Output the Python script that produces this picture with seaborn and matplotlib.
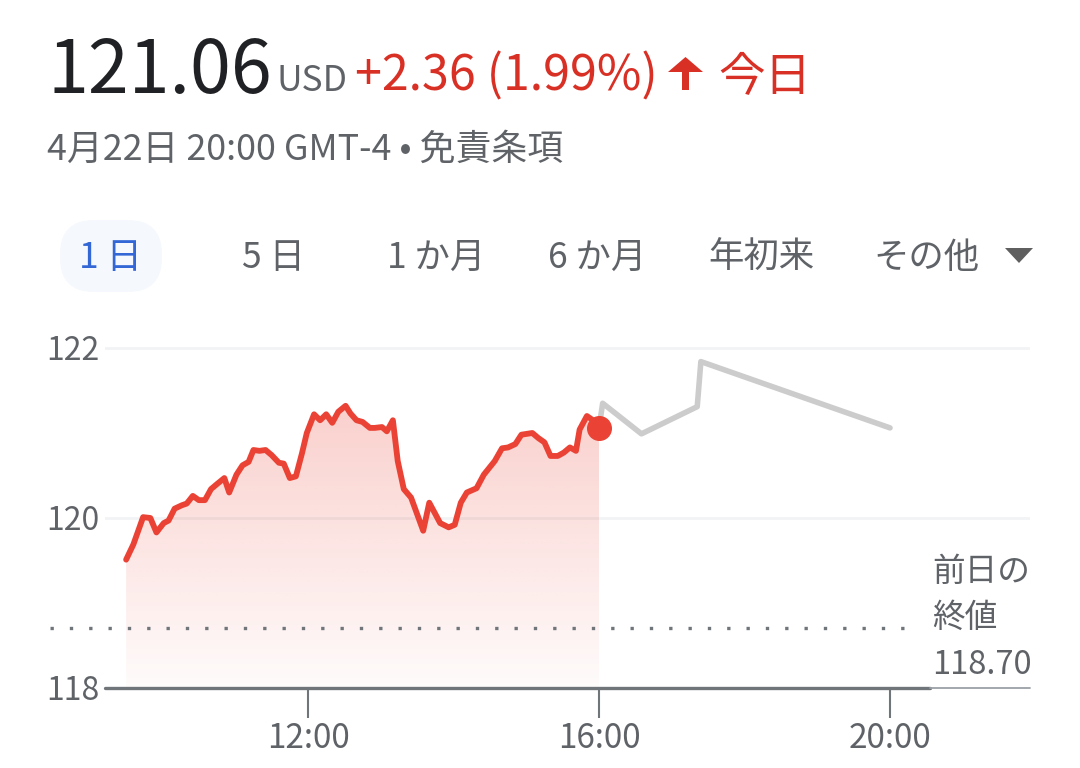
import numpy as np
import pandas as pd
import matplotlib
matplotlib.use("Agg")
import matplotlib.pyplot as plt
import seaborn as sns
from matplotlib.patches import Polygon, FancyBboxPatch

# données (séance du jour)
temps_seance = ["09:30", "09:36", "09:44", "09:50", "09:55", "10:01", "10:05", "10:10",
                "10:16", "10:20", "10:25", "10:30", "10:35", "10:40", "10:45", "10:51",
                "10:55", "11:01", "11:06", "11:11", "11:15", "11:20", "11:25", "11:30",
                "11:36", "11:40", "11:45", "11:50", "11:55", "11:59", "12:05", "12:10",
                "12:15", "12:20", "12:25", "12:31", "12:35", "12:40", "12:45", "12:51",
                "12:55", "13:01", "13:05", "13:10", "13:14", "13:19", "13:25", "13:35",
                "13:40", "13:49", "13:56", "14:01", "14:06", "14:11", "14:19", "14:25",
                "14:34", "14:40", "14:45", "14:51", "14:56", "15:05", "15:10", "15:15",
                "15:20", "15:26", "15:31", "15:36", "15:41", "15:44", "15:50", "15:55",
                "16:00"]
prix_seance = [119.51, 119.69, 120.01, 120.00, 119.83, 119.94, 119.97, 120.11,
               120.15, 120.17, 120.26, 120.21, 120.21, 120.34, 120.40, 120.47,
               120.30, 120.51, 120.62, 120.66, 120.80, 120.79, 120.80, 120.74,
               120.65, 120.64, 120.47, 120.49, 120.76, 121.00, 121.22, 121.15,
               121.22, 121.12, 121.25, 121.32, 121.23, 121.15, 121.13, 121.06,
               121.06, 121.07, 121.02, 121.15, 120.67, 120.34, 120.24, 119.85,
               120.18, 119.94, 119.89, 119.92, 120.18, 120.30, 120.35, 120.51,
               120.67, 120.82, 120.83, 120.87, 120.98, 121.00, 120.94, 120.89,
               120.73, 120.73, 120.77, 120.83, 120.79, 121.04, 121.20, 121.15,
               121.06]

# après la clôture
temps_apres = ["16:00", "16:03", "16:35", "17:21", "17:24", "20:00"]
prix_apres = [121.06, 121.35, 120.99, 121.31, 121.84, 121.06]

cloture_veille = 118.70
yticks = [118, 120, 122]
xticks = [12, 16, 20]
xtick_labels = ["12:00", "16:00", "20:00"]
onglets = ["1 日", "5 日", "1 か月", "6 か月", "年初来", "その他"]


def en_heures(liste):
    return [int(t[:2]) + int(t[3:]) / 60 for t in liste]


df_seance = pd.DataFrame({"heure": en_heures(temps_seance), "prix": prix_seance})
df_apres = pd.DataFrame({"heure": en_heures(temps_apres), "prix": prix_apres})

sns.set_theme(style="white")
plt.rcParams['font.family'] = ['Noto Sans CJK JP', 'DejaVu Sans']

ROUGE = "#ea4335"
GRIS = "#70757a"
GRIS_TXT = "#5f6368"

fig = plt.figure(figsize=(10.8, 7.68), dpi=100)
fig.patch.set_facecolor("white")

# axe principal (en pixels : x 105 -> 1030, y 330 -> 688)
ax = fig.add_axes([105 / 1080, 1 - 688 / 768, 925 / 1080, 358 / 768])
ax.set_facecolor("none")
ax.set_xlim(9.2096, 21.924)
ax.set_ylim(118, 118 + 358 / 85)

for v in [120, 122]:
    ax.axhline(v, color="#f1f3f4", lw=2, zorder=1)

# remplissage en dégradé sous la courbe
xs = df_seance["heure"].values
ys = df_seance["prix"].values
poly = np.column_stack([np.r_[xs, xs[-1], xs[0]], np.r_[ys, 118, 118]])
clip = Polygon(poly, closed=True, facecolor="none", edgecolor="none")
ax.add_patch(clip)
grad = np.zeros((256, 1, 4))
grad[:, 0, 0] = 234 / 255
grad[:, 0, 1] = 67 / 255
grad[:, 0, 2] = 53 / 255
grad[:, 0, 3] = np.linspace(0.25, 0.02, 256)
img = ax.imshow(grad, extent=[xs[0], xs[-1], 118, ys.max()], aspect="auto",
                origin="upper", zorder=2)
img.set_clip_path(clip)

sns.lineplot(data=df_apres, x="heure", y="prix", color="#cccccc", lw=4,
             ax=ax, zorder=3)
sns.lineplot(data=df_seance, x="heure", y="prix", color=ROUGE, lw=4.2,
             ax=ax, zorder=4)
ax.plot(xs[-1], ys[-1], "o", color=ROUGE, ms=17, zorder=5)

# ligne pointillée : clôture de la veille
ax.hlines(cloture_veille, -0.0595, 0.881, transform=ax.get_yaxis_transform(),
          colors=GRIS, lw=2.4, linestyles=(0, (1, 4.8)), clip_on=False, zorder=3)

# ligne de base
ax.axhline(118, xmin=0, xmax=0.892, color=GRIS, lw=2.4, clip_on=False, zorder=6)
ax.axhline(118, xmin=0.892, xmax=1, color="#9aa0a6", lw=1.3, clip_on=False, zorder=6)

for s in ax.spines.values():
    s.set_visible(False)
ax.set_yticks(yticks)
ax.set_yticklabels([str(v) for v in yticks])
ax.set_xticks(xticks)
ax.set_xticklabels(xtick_labels)
ax.tick_params(axis="y", length=0, pad=4, labelsize=23, labelcolor=GRIS_TXT)
ax.tick_params(axis="x", length=21.6, width=1.5, color=GRIS, pad=2,
               labelsize=24, labelcolor=GRIS_TXT, bottom=True)
ax.set_xlabel("")
ax.set_ylabel("")

# couches de texte en coordonnées pixels
ov = fig.add_axes([0, 0, 1, 1], zorder=-1)
ov.set_xlim(0, 1080)
ov.set_ylim(768, 0)
ov.axis("off")
top = fig.add_axes([0, 0, 1, 1], zorder=10)
top.set_xlim(0, 1080)
top.set_ylim(768, 0)
top.axis("off")
top.patch.set_alpha(0)

top.text(47, 93, "121.06", fontsize=53, color="#202124", va="baseline")
top.text(277, 91, "USD", fontsize=25.5, color=GRIS_TXT, va="baseline")
top.text(355, 91, "+2.36 (1.99%)", fontsize=34.8, color="#d93025", va="baseline")
top.add_patch(Polygon([(668, 72), (703, 72), (685.5, 57)], closed=True,
                      color="#d93025", lw=0))
top.add_patch(Polygon([(682, 71), (689, 71), (689, 90), (682, 90)], closed=True,
                      color="#d93025", lw=0))
top.text(718, 91, "今日", fontsize=33.5, color="#d93025", va="baseline")
top.text(47, 160, "4月22日 20:00 GMT-4 • 免責条項", fontsize=25.8, color=GRIS_TXT,
         va="baseline")

# onglets
ov.add_patch(FancyBboxPatch((60, 220), 102, 72, boxstyle="round,pad=0,rounding_size=34",
                            facecolor="#f5f8fc", edgecolor="none"))
pos_onglets = [110, 273, 436, 597, 761, 926]
for i, (t, px) in enumerate(zip(onglets, pos_onglets)):
    top.text(px, 258, t, fontsize=25.5, color="#3367d6" if i == 0 else GRIS_TXT,
             ha="center", va="center")
top.add_patch(Polygon([(1005, 248), (1033, 248), (1019, 263)], closed=True,
                      color="#5f5f5f", lw=0))

top.text(932, 572, "前日の", fontsize=23.5, color=GRIS_TXT, va="center")
top.text(932, 618, "終値", fontsize=23.5, color=GRIS_TXT, va="center")
top.text(932, 665, f"{cloture_veille:.2f}", fontsize=23.5, color=GRIS_TXT, va="center")

fig.savefig("out.png", dpi=100)
